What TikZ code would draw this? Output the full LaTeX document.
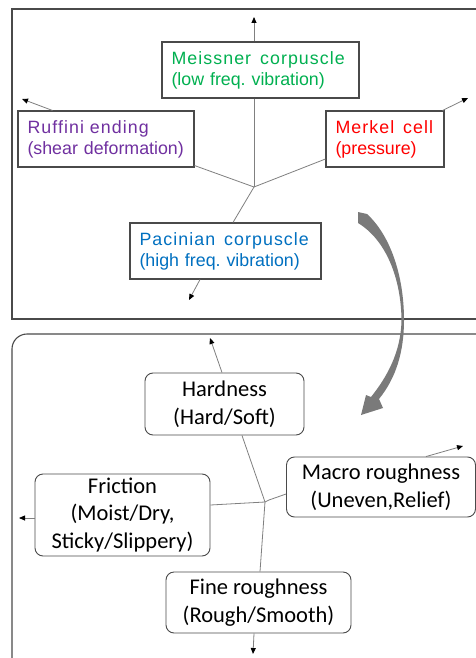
\documentclass[tikz,border=0pt]{standalone}
\usepackage{fontspec}
\setmainfont{Liberation Sans}
\newfontfamily\spacedfont{Liberation Sans}[LetterSpace=6]
\newfontfamily\calfont{Carlito}
\usetikzlibrary{arrows.meta,calc}
\definecolor{meigreen}{HTML}{00B050}
\definecolor{rufpurple}{HTML}{7030A0}
\definecolor{merred}{HTML}{FF0000}
\definecolor{pacblue}{HTML}{0070C0}
\definecolor{frame}{HTML}{4A4A4A}
\definecolor{wire}{HTML}{808080}
\frenchspacing
\newcommand\headline[1]{{\spacedfont #1}}
\newcommand\wsp{\ \hspace{3pt}}
\tikzset{
  receptor/.style={draw=frame, line width=1.1pt, inner xsep=9.5pt, inner ysep=0pt,
    minimum height=56pt, align=left, font=\fontsize{17.8}{21}\selectfont, anchor=center},
  percept/.style={draw=frame, line width=0.9pt, rounded corners=8pt, inner sep=0pt,
    align=center, font=\calfont\fontsize{22.5}{27.5}\selectfont, anchor=center},
  wireline/.style={draw=wire, line width=0.8pt},
  axis/.style={draw=wire, line width=0.8pt,
    -{Triangle[length=6pt,width=5pt,color=black]}},
}
\begin{document}
\begin{tikzpicture}[x=1pt,y=-1pt]
\clip (0,0) rectangle (476,658);
\fill[white] (0,0) rectangle (476,658);

% receptor panel
\draw[frame, line width=1.1pt] (12,9) rectangle (495,319);
\node[receptor, text width=178pt, text=meigreen] (mei) at (260.5,70)
  {\headline{Meissner\wsp corpuscle}\\(low freq. vibration)};
\node[receptor, text width=157pt, text=rufpurple] (ruf) at (106,139)
  {\headline{Ruffini ending}\\(shear deformation)};
\node[receptor, text width=99pt, text=merred] (mer) at (385,139)
  {\headline{Merkel\wsp cell}\\(pressure)};
\node[receptor, text width=172pt, text=pacblue] (pac) at (225.5,251)
  {\headline{Pacinian\wsp corpuscle}\\(high freq. vibration)};

\coordinate (ja) at (254,187);
\coordinate (meiend) at (254,17);
\coordinate (rufend) at (22,99);
\coordinate (merend) at (468,98);
\coordinate (pacend) at (189,300);

\draw[wireline] (ruf.south east) ++(0,-2) -- (ja);
\draw[wireline] ([yshift=-20pt]mer.west) -- (ja);
\draw[wireline] (ja |- mei.south) -- (ja);
\draw[wireline] (ja) -- ([xshift=7.5pt]pac.north);
\draw[axis] (ja |- mei.north) -- (meiend);
\draw[axis] ([xshift=35pt]ruf.north west) -- (rufend);
\draw[axis] ([xshift=-2pt]mer.north east) -- (merend);
\draw[axis] ([xshift=-25.5pt]pac.south) -- (pacend);

% perception panel
\draw[frame, line width=1.1pt, rounded corners=15pt] (12,334) rectangle (495,680);
\node[percept, minimum width=159pt, minimum height=62pt] (hard) at (224.5,404)
  {Hardness\\(Hard/Soft)};
\node[percept, minimum width=189pt, minimum height=60pt] (macro) at (381,487)
  {Macro roughness\\(Uneven,Relief)};
\node[percept, minimum width=175pt, minimum height=82pt] (fric) at (122.5,515)
  {Friction\\(Moist/Dry,\\Sticky/Slippery)};
\node[percept, minimum width=185pt, minimum height=61pt] (fine) at (258.5,602.5)
  {Fine roughness\\(Rough/Smooth)};

\coordinate (jb) at (265,502);
\coordinate (hardend) at (210,338);
\coordinate (macroend) at (463,446);
\coordinate (fricend) at (19,518);
\coordinate (fineend) at (253,654);

\draw[wireline] ([xshift=17.5pt]hard.south) -- (jb);
\draw[wireline] ([yshift=10pt]fric.east) -- (jb);
\draw[wireline] ([yshift=-7pt]macro.west) -- (269,500) -- (jb);
\draw[wireline] (jb) -- ([xshift=1.5pt]fine.north);
\draw[axis] ([xshift=-2.5pt]hard.north) -- (hardend);
\draw[axis] ([xshift=45pt]macro.north) -- (macroend);
\draw[axis] ([yshift=-3pt]fric.west) -- (fricend);
\draw[axis] ([xshift=-4.5pt]fine.south) -- (fineend);

% sweeping arrow from receptors to percepts
\fill[wire!95!black]
  (358,212) -- (367,214)
  .. controls (390,235) and (404,275) .. (404,320)
  .. controls (404,352) and (396,378) .. (379,399)
  -- (383,408) -- (361,415) -- (366,395) -- (371,397)
  .. controls (387,377) and (401,352) .. (401.5,320)
  .. controls (401,278) and (386,240) .. (358,223)
  -- cycle;
\end{tikzpicture}
\end{document}
